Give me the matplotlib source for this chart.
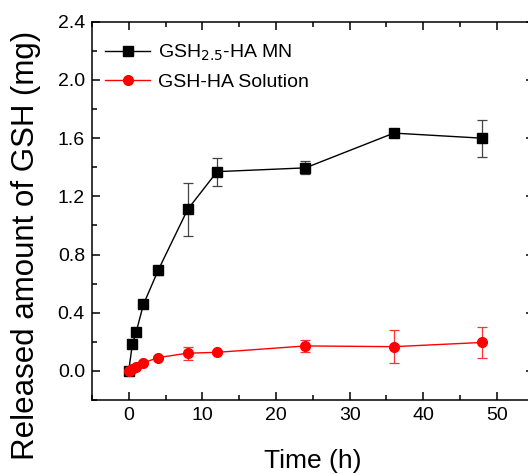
import matplotlib
matplotlib.use("Agg")
import matplotlib.pyplot as plt
from matplotlib.ticker import MultipleLocator

plt.rcParams['font.family'] = ['Liberation Sans', 'DejaVu Sans']

# release time points (h)
t_mn = [0, 0.5, 1, 2, 4, 8, 12, 24, 36, 48]
t_sol = [0, 0.5, 1, 2, 4, 8, 12, 24, 36, 48]

# GSH2.5-HA microneedles
gsh_mn = [0.0, 0.185, 0.265, 0.457, 0.692, 1.11, 1.37, 1.396, 1.635, 1.60]
gsh_mn_err = [0.01, 0.01, 0.01, 0.02, 0.03, 0.185, 0.097, 0.044, 0.01, 0.127]

# GSH-HA solution
gsh_sol = [0.0, 0.013, 0.028, 0.056, 0.092, 0.122, 0.128, 0.172, 0.167, 0.196]
gsh_sol_err = [0.005, 0.005, 0.008, 0.01, 0.012, 0.045, 0.012, 0.039, 0.112, 0.107]

fig = plt.figure(figsize=(5.28, 4.74), dpi=100)
ax = fig.add_axes([0.174, 0.156, 0.837, 0.798])

# error bars first, then lines + markers on top
ax.errorbar(t_mn, gsh_mn, yerr=gsh_mn_err, fmt='none', ecolor='#444444',
            elinewidth=0.9, capsize=3.5, capthick=0.9)
ax.errorbar(t_sol, gsh_sol, yerr=gsh_sol_err, fmt='none', ecolor='#ff3333',
            elinewidth=0.9, capsize=3.5, capthick=0.9)
ax.plot(t_mn, gsh_mn, color='black', marker='s', markersize=6.5, lw=1,
        label='GSH$_{2.5}$-HA MN')
ax.plot(t_sol, gsh_sol, color='red', marker='o', markersize=7, lw=1,
        label='GSH-HA Solution')

ax.set_xlim(-5, 55)
ax.set_ylim(-0.2, 2.4)
ax.xaxis.set_major_locator(MultipleLocator(10))
ax.xaxis.set_minor_locator(MultipleLocator(5))
ax.yaxis.set_major_locator(MultipleLocator(0.4))
ax.yaxis.set_minor_locator(MultipleLocator(0.2))
ax.set_yticks([0.0, 0.4, 0.8, 1.2, 1.6, 2.0, 2.4])
ax.set_xticks([0, 10, 20, 30, 40, 50])

ax.tick_params(which='both', direction='in', top=True, right=True,
               width=1.1, labelsize=14)
ax.tick_params(which='major', length=6, pad=5)
ax.tick_params(which='minor', length=3.5)
for s in ax.spines.values():
    s.set_linewidth(1.1)

ax.set_xlabel('Time (h)', fontsize=19, labelpad=18)
ax.set_ylabel('Released amount of GSH (mg)', fontsize=22.5)
ax.yaxis.set_label_coords(-0.115, 0.41)

ax.legend(loc='upper left', bbox_to_anchor=(0.0, 0.98), frameon=False,
          fontsize=14, handlelength=2.3, handletextpad=0.4,
          borderaxespad=0.3, labelspacing=0.5)

fig.savefig('out.png', dpi=100)
